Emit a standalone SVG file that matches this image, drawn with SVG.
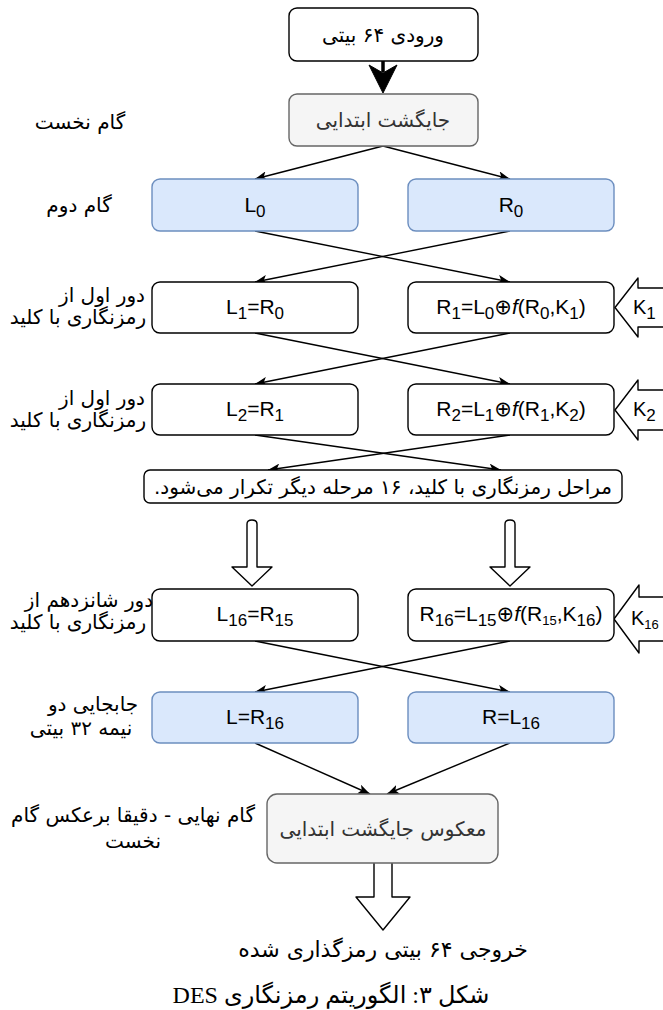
<svg xmlns="http://www.w3.org/2000/svg" width="663" height="1010" viewBox="0 0 663 1010">
<style>
.t{font-family:"Liberation Sans","DejaVu Sans",sans-serif;font-size:21px;fill:#000}
.k{font-family:"Liberation Sans","DejaVu Sans",sans-serif;font-size:20px;fill:#000}
.fa{font-family:"DejaVu Sans",sans-serif;font-size:20px;fill:#000}
.s{font-size:17px}
.ss{font-size:13px}
.w{fill:#fff;stroke:#000;stroke-width:1.4}
.g{fill:#f5f5f5;stroke:#666;stroke-width:1.4}
.b{fill:#dae8fc;stroke:#6c8ebf;stroke-width:1.4}
.e{fill:none;stroke:#000;stroke-width:1.4;marker-end:url(#ah)}
.ha{fill:#fff;stroke:#000;stroke-width:1.4;stroke-linejoin:round}
.cap{font-family:"Liberation Serif","DejaVu Sans",serif;font-size:24px;fill:#000}
</style>
<defs>
<marker id="ah" viewBox="0 0 10 8" refX="10" refY="4" markerWidth="12" markerHeight="9.6" markerUnits="userSpaceOnUse" orient="auto">
<path d="M0,0 L10,4 L0,8 L2.5,4 Z" fill="#000"/>
</marker>
</defs>
<rect width="663" height="1010" fill="#fff"/>

<g id="connectors">
<path d="M383,61 L383,72" stroke="#000" stroke-width="3.5" fill="none"/>
<path d="M369,65 L383,73 L397,65 L383,93 Z" fill="#000" stroke="#000" stroke-width="1" stroke-linejoin="round"/>
<path class="e" d="M383,146 L255,179"/>
<path class="e" d="M383,146 L510,179"/>
<path class="e" d="M255,231 L510,282"/>
<path class="e" d="M510,231 L255,282"/>
<path class="e" d="M255,333 L510,384"/>
<path class="e" d="M510,333 L255,384"/>
<path class="e" d="M255,435 L501,470"/>
<path class="e" d="M510,435 L268,470"/>
<path class="e" d="M255,641 L510,692"/>
<path class="e" d="M510,641 L255,692"/>
<path class="e" d="M255,743 L370,794"/>
<path class="e" d="M510,743 L387,794"/>
<path class="ha" d="M247,567 L247,524 Q247,520 252,520 Q257,520 257,524 L257,567 L272,567 L252,586 L232,567 Z"/>
<path class="ha" d="M505,567 L505,524 Q505,520 510,520 Q515,520 515,524 L515,567 L530,567 L510,586 L490,567 Z"/>
<path class="ha" d="M374,863 L374,897 L356,897 L383,930 L410,897 L392,897 L392,863"/>
<path class="ha" d="M670,288 L638,288 L638,278 L615,307.5 L638,337 L638,327 L670,327"/>
<path class="ha" d="M670,390 L638,390 L638,380 L615,410 L638,440 L638,430 L670,430"/>
<path class="ha" d="M670,597 L639,597 L639,585 L614,619 L639,653 L639,641 L670,641"/>
</g>

<g id="k1"><text class="k" x="633" y="314">K<tspan class="s" dy="5">1</tspan></text></g>
<g id="k2"><text class="k" x="633" y="416">K<tspan class="s" dy="5">2</tspan></text></g>
<g id="k16"><text class="k" x="631" y="625">K<tspan class="ss" dy="4">16</tspan></text></g>

<g id="input">
<rect class="w" x="289" y="8" width="189" height="53" rx="8"/>
<text class="fa" x="383" y="42" text-anchor="middle" direction="rtl">ورودی ۶۴ بیتی</text>
</g>
<g id="ip">
<rect class="g" x="289" y="94" width="189" height="52" rx="8"/>
<text class="fa" x="383" y="127" text-anchor="middle" direction="rtl" style="fill:#333">جایگشت ابتدایی</text>
</g>
<g id="step1-label"><text class="fa" x="80" y="129" text-anchor="middle" direction="rtl">گام نخست</text></g>

<g id="L0">
<rect class="b" x="152" y="179" width="206" height="52" rx="8"/>
<text class="t" x="255" y="212" text-anchor="middle">L<tspan class="s" dy="5">0</tspan></text>
</g>
<g id="R0">
<rect class="b" x="408" y="179" width="206" height="52" rx="8"/>
<text class="t" x="511" y="212" text-anchor="middle">R<tspan class="s" dy="5">0</tspan></text>
</g>
<g id="step2-label"><text class="fa" x="79" y="212" text-anchor="middle" direction="rtl">گام دوم</text></g>

<g id="L1">
<rect class="w" x="152" y="282" width="206" height="51" rx="8"/>
<text class="t" x="255" y="314" text-anchor="middle">L<tspan class="s" dy="5">1</tspan><tspan dy="-5">=R</tspan><tspan class="s" dy="5">0</tspan></text>
</g>
<g id="R1">
<rect class="w" x="408" y="282" width="206" height="51" rx="8"/>
<text class="t" x="511" y="314" text-anchor="middle">R<tspan class="s" dy="5">1</tspan><tspan dy="-5">=L</tspan><tspan class="s" dy="5">0</tspan><tspan dy="-5">⊕</tspan><tspan font-style="italic">f</tspan>(R<tspan class="s" dy="5">0</tspan><tspan dy="-5">,K</tspan><tspan class="s" dy="5">1</tspan><tspan dy="-5">)</tspan></text>
</g>
<g id="round1-label">
<text class="fa" x="102" y="302" text-anchor="middle" direction="rtl">دور اول از</text>
<text class="fa" x="78" y="324" text-anchor="middle" direction="rtl">رمزنگاری با کلید</text>
</g>

<g id="L2">
<rect class="w" x="152" y="384" width="206" height="51" rx="8"/>
<text class="t" x="255" y="416" text-anchor="middle">L<tspan class="s" dy="5">2</tspan><tspan dy="-5">=R</tspan><tspan class="s" dy="5">1</tspan></text>
</g>
<g id="R2">
<rect class="w" x="408" y="384" width="206" height="51" rx="8"/>
<text class="t" x="511" y="416" text-anchor="middle">R<tspan class="s" dy="5">2</tspan><tspan dy="-5">=L</tspan><tspan class="s" dy="5">1</tspan><tspan dy="-5">⊕</tspan><tspan font-style="italic">f</tspan>(R<tspan class="s" dy="5">1</tspan><tspan dy="-5">,K</tspan><tspan class="s" dy="5">2</tspan><tspan dy="-5">)</tspan></text>
</g>
<g id="round2-label">
<text class="fa" x="102" y="405" text-anchor="middle" direction="rtl">دور اول از</text>
<text class="fa" x="78" y="427" text-anchor="middle" direction="rtl">رمزنگاری با کلید</text>
</g>

<g id="repeat">
<rect class="w" x="144" y="470" width="478" height="33" rx="6"/>
<text class="fa" x="383" y="494" text-anchor="middle" direction="rtl">مراحل رمزنگاری با کلید، ۱۶ مرحله دیگر تکرار می‌شود.</text>
</g>

<g id="L16">
<rect class="w" x="152" y="589" width="206" height="52" rx="8"/>
<text class="t" x="255" y="621" text-anchor="middle">L<tspan class="s" dy="5">16</tspan><tspan dy="-5">=R</tspan><tspan class="s" dy="5">15</tspan></text>
</g>
<g id="R16">
<rect class="w" x="408" y="589" width="206" height="52" rx="8"/>
<text class="t" x="511" y="621" text-anchor="middle">R<tspan class="s" dy="5">16</tspan><tspan dy="-5">=L</tspan><tspan class="s" dy="5">15</tspan><tspan dy="-5">⊕</tspan><tspan font-style="italic">f</tspan>(R<tspan class="ss" dy="4">15</tspan><tspan dy="-4">,K</tspan><tspan class="s" dy="5">16</tspan><tspan dy="-5">)</tspan></text>
</g>
<g id="round16-label">
<text class="fa" x="89" y="607" text-anchor="middle" direction="rtl">دور شانزدهم از</text>
<text class="fa" x="78" y="629" text-anchor="middle" direction="rtl">رمزنگاری با کلید</text>
</g>

<g id="Lswap">
<rect class="b" x="152" y="692" width="206" height="51" rx="8"/>
<text class="t" x="255" y="724" text-anchor="middle">L=R<tspan class="s" dy="5">16</tspan></text>
</g>
<g id="Rswap">
<rect class="b" x="408" y="692" width="206" height="51" rx="8"/>
<text class="t" x="511" y="724" text-anchor="middle">R=L<tspan class="s" dy="5">16</tspan></text>
</g>
<g id="swap-label">
<text class="fa" x="93" y="711" text-anchor="middle" direction="rtl">جابجایی دو</text>
<text class="fa" x="81" y="735" text-anchor="middle" direction="rtl">نیمه ۳۲ بیتی</text>
</g>

<g id="fp">
<rect class="g" x="267" y="794" width="231" height="69" rx="10"/>
<text class="fa" x="383" y="836" text-anchor="middle" direction="rtl" style="fill:#333">معکوس جایگشت ابتدایی</text>
</g>
<g id="final-label">
<text class="fa" x="133" y="822" text-anchor="middle" direction="rtl">گام نهایی - دقیقا برعکس گام</text>
<text class="fa" x="133" y="848" text-anchor="middle" direction="rtl">نخست</text>
</g>

<g id="output"><text class="fa" x="383" y="957" text-anchor="middle" direction="rtl" style="font-size:22px">خروجی ۶۴ بیتی رمزگذاری شده</text></g>
<g id="caption"><text class="cap" x="331" y="1003" text-anchor="middle" direction="rtl">شکل ۳: الگوریتم رمزنگاری DES</text></g>
</svg>
